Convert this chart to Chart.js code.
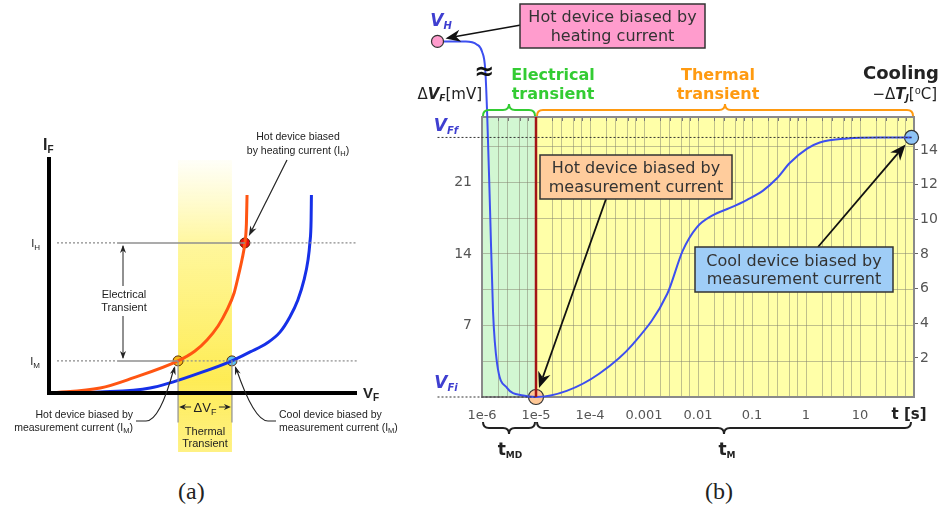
<!DOCTYPE html>
<html>
<head>
<meta charset="utf-8">
<title>Transient thermal measurement</title>
<script src="https://cdn.jsdelivr.net/npm/chart.js"></script>
<style>
  body { margin: 0; background: #fff; width: 944px; height: 515px; position: relative; overflow: hidden; }
  #graficoA { position: absolute; left: 0; top: 0; }
  #graficoB { position: absolute; left: 400px; top: 0; }
  .cap { position: absolute; top: 478px; font-family: 'Liberation Serif', serif; font-size: 24px; color: #222; }
</style>
</head>
<body>
<canvas id="graficoA" width="410" height="470"></canvas>
<canvas id="graficoB" width="544" height="470"></canvas>
<div class="cap" style="left:178px">(a)</div>
<div class="cap" style="left:705px">(b)</div>
<script>
// ---------- (a) I-V curves, arbitrary units 0..100 ----------
const hotVF  = [0.3, 16.6, 27.3, 41.9, 47.4, 51.3, 54.9, 57.8, 60.1, 61.4, 62.7, 63.6, 64.1, 64.3];
const hotIF  = [0,   2.1,  6.4,  13.6, 17.8, 22.5, 28.4, 35.2, 42.4, 49.2, 56.8, 63.6, 72,   83.9];
const coolVF = [0.3, 16.6, 32.8, 49.0, 59.4, 65.3, 70.8, 75.0, 78.2, 80.8, 82.8, 84.1, 84.7, 85.1, 85.2];
const coolIF = [0,   0.4,  2.1,  8.5,  13.6, 17.4, 21.2, 25.8, 32.2, 39.4, 47.9, 56.4, 63.6, 73.3, 83.9];
const IH = 63.6, IM = 13.6;
const hotVM = 41.9, coolVM = 59.4, hotVH = 63.6;

// ---------- (b) cooling transient ----------
// points left of 1e-6 / above the top are the schematic link to V_H (axis break)
const tSec = [1.5e-7, 5e-7, 8e-7, 1.0e-6, 1.15e-6, 1.25e-6, 1.41e-6, 1.6e-6, 1.9e-6, 2.9e-6, 5.8e-6, 1e-5,
              3.7e-5, 1.5e-4, 6.3e-4, 2.7e-3, 5.2e-3, 9.5e-3, 0.019, 0.039, 0.081, 0.16, 0.29, 0.5, 1.05, 1.8, 5.8, 23, 90];
const dVF  = [34.8, 34.8, 34.5, 33.8, 32, 27.5, 18.3, 8.4, 3.3, 0.9, 0.15, 0,
              0.6, 2.3, 5.2, 10.1, 14.3, 16.6, 17.8, 18.5, 19.3, 20.2, 21.4, 22.9, 24.3, 24.9, 25.3, 25.4, 25.4];
const VFf = 25.4, VFi = 0, tH = 1.5e-7, VHval = 34.8;
const tMD = 1e-5, tEnd = 90, tMin = 1e-6, tMax = 100;
const xTickValues = [1e-6, 1e-5, 1e-4, 0.001, 0.01, 0.1, 1, 10];
const xTickLabels = ['1e-6', '1e-5', '1e-4', '0.001', '0.01', '0.1', '1', '10'];
const leftGrid = [0, 3.5, 7, 10.5, 14, 17.5, 21, 24.5];
const leftLabels = [7, 14, 21];
const rightTicks = [2, 4, 6, 8, 10, 12, 14];

const SANS = "'Liberation Sans', Arial, sans-serif";
const DEJA = "'DejaVu Sans', Verdana, sans-serif";

function pts(xs, ys) { return xs.map((x, i) => ({ x: x, y: ys[i] })); }

function head(ctx, x, y, a, hl, hw) {
  ctx.beginPath();
  ctx.moveTo(x, y);
  ctx.lineTo(x - hl * Math.cos(a) + hw * Math.sin(a), y - hl * Math.sin(a) - hw * Math.cos(a));
  ctx.lineTo(x - hl * 0.7 * Math.cos(a), y - hl * 0.7 * Math.sin(a));
  ctx.lineTo(x - hl * Math.cos(a) - hw * Math.sin(a), y - hl * Math.sin(a) + hw * Math.cos(a));
  ctx.closePath();
  ctx.fill();
}
function arrow(ctx, x1, y1, x2, y2, hl, hw, lw) {
  const a = Math.atan2(y2 - y1, x2 - x1);
  ctx.lineWidth = lw;
  ctx.beginPath();
  ctx.moveTo(x1, y1);
  ctx.lineTo(x2 - Math.cos(a) * hl * 0.7, y2 - Math.sin(a) * hl * 0.7);
  ctx.stroke();
  head(ctx, x2, y2, a, hl, hw);
}
// text made of runs (for subscripts)
function runs(ctx, parts, x, y, align) {
  let w = 0;
  parts.forEach(p => { ctx.font = p.f; w += ctx.measureText(p.t).width; });
  let cx = align === 'right' ? x - w : align === 'center' ? x - w / 2 : x;
  ctx.textAlign = 'left';
  parts.forEach(p => {
    ctx.font = p.f;
    if (p.c) ctx.fillStyle = p.c;
    ctx.fillText(p.t, cx, y + (p.dy || 0));
    cx += ctx.measureText(p.t).width;
  });
}
function brace(ctx, x1, x2, y, h, up) {
  const s = up ? -1 : 1, m = (x1 + x2) / 2, r = 6;
  ctx.beginPath();
  ctx.moveTo(x1, y - s * h);
  ctx.quadraticCurveTo(x1, y, x1 + r, y);
  ctx.lineTo(m - r, y);
  ctx.quadraticCurveTo(m, y, m, y + s * h);
  ctx.quadraticCurveTo(m, y, m + r, y);
  ctx.lineTo(x2 - r, y);
  ctx.quadraticCurveTo(x2, y, x2, y - s * h);
  ctx.stroke();
}

// ---------- chart (a) ----------
const decorA = {
  id: 'decorA',
  beforeDatasetsDraw(chart) {
    const ctx = chart.ctx, x = chart.scales.x;
    const x1 = x.getPixelForValue(hotVM), x2 = x.getPixelForValue(coolVM);
    const yt = 160, yb = 452;
    const g = ctx.createLinearGradient(0, yt, 0, yb);
    g.addColorStop(0, 'rgba(255,245,120,0.05)');
    g.addColorStop(0.3, 'rgba(255,242,100,0.65)');
    g.addColorStop(0.75, 'rgba(254,234,70,0.92)');
    g.addColorStop(1, 'rgba(254,236,90,0.75)');
    ctx.save();
    ctx.fillStyle = g;
    ctx.fillRect(x1, yt, x2 - x1, yb - yt);
    ctx.restore();
  },
  afterDatasetsDraw(chart) {
    const ctx = chart.ctx, a = chart.chartArea;
    ctx.save();
    ctx.strokeStyle = '#000';
    ctx.lineWidth = 4;
    ctx.beginPath();
    ctx.moveTo(a.left, a.top);
    ctx.lineTo(a.left, a.bottom);
    ctx.lineTo(a.right, a.bottom);
    ctx.stroke();
    ctx.restore();
  },
  afterDraw(chart) {
    const ctx = chart.ctx, x = chart.scales.x, y = chart.scales.y;
    const px = v => x.getPixelForValue(v), py = v => y.getPixelForValue(v);
    ctx.save();
    ctx.fillStyle = '#222';
    ctx.strokeStyle = '#222';
    ctx.textBaseline = 'alphabetic';
    runs(ctx, [{ t: 'I', f: 'bold 16px ' + SANS }, { t: 'F', f: 'bold 10px ' + SANS, dy: 3 }], 43, 150, 'left');
    runs(ctx, [{ t: 'V', f: 'bold 15px ' + SANS }, { t: 'F', f: 'bold 10px ' + SANS, dy: 3 }], 363, 398, 'left');
    runs(ctx, [{ t: 'I', f: '11px ' + SANS }, { t: 'H', f: '8px ' + SANS, dy: 3 }], 40, py(IH) + 4, 'right');
    runs(ctx, [{ t: 'I', f: '11px ' + SANS }, { t: 'M', f: '8px ' + SANS, dy: 3 }], 40, py(IM) + 4, 'right');

    // electrical transient double arrow
    const xe = 123;
    ctx.lineWidth = 1;
    ctx.beginPath(); ctx.moveTo(xe, py(IH) + 3); ctx.lineTo(xe, py(IM) - 3); ctx.stroke();
    head(ctx, xe, py(IH) + 2, -Math.PI / 2, 8, 3);
    head(ctx, xe, py(IM) - 2, Math.PI / 2, 8, 3);
    ctx.fillStyle = '#fff';
    ctx.fillRect(98, 286, 52, 30);
    ctx.fillStyle = '#222';
    ctx.font = '11px ' + SANS;
    ctx.textAlign = 'center';
    ctx.textBaseline = 'middle';
    ctx.fillText('Electrical', xe + 1, 295);
    ctx.fillText('Transient', xe + 1, 308);
    ctx.fillText('Thermal', 205, 432);
    ctx.fillText('Transient', 205, 444);

    // delta VF dimension arrows
    const x1 = px(hotVM), x2 = px(coolVM);
    ctx.beginPath(); ctx.moveTo(x1 + 4, 407); ctx.lineTo(x1 + 13, 407); ctx.moveTo(x2 - 13, 407); ctx.lineTo(x2 - 4, 407); ctx.stroke();
    head(ctx, x1 + 1, 407, Math.PI, 7, 3);
    head(ctx, x2 - 1, 407, 0, 7, 3);
    ctx.textBaseline = 'alphabetic';
    runs(ctx, [{ t: 'ΔV', f: '13px ' + SANS }, { t: 'F', f: '9px ' + SANS, dy: 3 }], 205, 412, 'center');

    // annotations
    ctx.textBaseline = 'middle';
    ctx.font = '10.5px ' + SANS;
    ctx.textAlign = 'right';
    ctx.fillText('Hot device biased by', 133, 415);
    runs(ctx, [{ t: 'measurement current (I', f: '10.5px ' + SANS }, { t: 'M', f: '7.5px ' + SANS, dy: 3 }, { t: ')', f: '10.5px ' + SANS }], 133, 428, 'right');
    ctx.font = '10.5px ' + SANS;
    ctx.textAlign = 'left';
    ctx.fillText('Cool device biased by', 279, 415);
    runs(ctx, [{ t: 'measurement current (I', f: '10.5px ' + SANS }, { t: 'M', f: '7.5px ' + SANS, dy: 3 }, { t: ')', f: '10.5px ' + SANS }], 279, 428, 'left');
    ctx.font = '10.5px ' + SANS;
    ctx.textAlign = 'center';
    ctx.fillText('Hot device biased', 298, 137);
    runs(ctx, [{ t: 'by heating current (I', f: '10.5px ' + SANS }, { t: 'H', f: '7.5px ' + SANS, dy: 3 }, { t: ')', f: '10.5px ' + SANS }], 298, 151, 'center');

    // leaders
    ctx.lineWidth = 1.2;
    const hx = px(hotVM), cx = px(coolVM), my = py(IM);
    ctx.beginPath(); ctx.moveTo(136, 421); ctx.lineTo(146, 421); ctx.quadraticCurveTo(160, 421, hx - 4, my + 7); ctx.stroke();
    head(ctx, hx - 3, my + 5, Math.atan2(my + 7 - 421, hx - 4 - 160), 9, 3);
    ctx.beginPath(); ctx.moveTo(276, 421); ctx.lineTo(268, 421); ctx.quadraticCurveTo(254, 421, cx + 4, my + 7); ctx.stroke();
    head(ctx, cx + 3, my + 5, Math.atan2(my + 7 - 421, cx + 4 - 254), 9, 3);
    arrow(ctx, 287, 160, px(hotVH) + 4, py(IH) - 7, 10, 3.5, 1.2);
    ctx.restore();
  }
};

const refLine = (x1, x2, yv, dash) => ({
  type: 'line', data: [{ x: x1, y: yv }, { x: x2, y: yv }],
  borderColor: dash ? '#8a8a8a' : '#8f8f8f', borderWidth: dash ? 1.2 : 1.5, borderDash: dash ? [2, 2] : [],
  pointRadius: 0, clip: false
});
const dot = (xv, yv, col) => ({
  type: 'line', data: [{ x: xv, y: yv }], showLine: false,
  pointRadius: 5, pointBackgroundColor: col, pointBorderColor: '#5a2a00', pointBorderWidth: 1, clip: false
});

new Chart(document.getElementById('graficoA'), {
  type: 'line',
  data: {
    datasets: [
      refLine(2.6, 22.1, IH, true), refLine(22.1, hotVH, IH, false), refLine(hotVH + 1.5, 100, IH, true),
      refLine(2.6, 22.1, IM, true), refLine(22.1, hotVM, IM, false), refLine(hotVM + 1.5, 100, IM, true),
      { type: 'line', data: [{ x: hotVM, y: IM }, { x: hotVM, y: -12.5 }], borderColor: '#8f8f8f', borderWidth: 1.2, pointRadius: 0, clip: false },
      { type: 'line', data: [{ x: coolVM, y: IM }, { x: coolVM, y: -12.5 }], borderColor: '#8f8f8f', borderWidth: 1.2, pointRadius: 0, clip: false },
      { type: 'line', data: pts(hotVF, hotIF), borderColor: '#ff5512', borderWidth: 3, pointRadius: 0, cubicInterpolationMode: 'monotone', clip: false },
      { type: 'line', data: pts(coolVF, coolIF), borderColor: '#1630e8', borderWidth: 3, pointRadius: 0, cubicInterpolationMode: 'monotone', clip: false },
      dot(hotVH, IH, '#e81010'),
      dot(hotVM, IM, '#f6b915'),
      dot(coolVM, IM, '#5cc0f0')
    ]
  },
  options: {
    responsive: false,
    animation: false,
    devicePixelRatio: 1,
    layout: { padding: { left: 49, top: 157, right: 410 - 357, bottom: 470 - 393 } },
    plugins: { legend: { display: false }, tooltip: { enabled: false } },
    scales: {
      x: { type: 'linear', min: 0, max: 100, display: false },
      y: { type: 'linear', min: 0, max: 100, display: false }
    }
  },
  plugins: [decorA]
});

// ---------- chart (b) ----------
const xGrid = [];
for (let e = -6; e < 2; e++) [1, 2, 3, 5, 7].forEach(k => xGrid.push(k * Math.pow(10, e)));
xGrid.push(tMax);

const decorB = {
  id: 'decorB',
  beforeDraw(chart) {
    const ctx = chart.ctx, a = chart.chartArea, x = chart.scales.x;
    const xm = x.getPixelForValue(tMD);
    ctx.save();
    ctx.fillStyle = '#d2f7d2';
    ctx.fillRect(a.left, a.top, xm - a.left, a.bottom - a.top);
    ctx.fillStyle = '#ffffa8';
    ctx.fillRect(xm, a.top, a.right - xm, a.bottom - a.top);
    ctx.restore();
  },
  beforeDatasetsDraw(chart) {
    const ctx = chart.ctx, a = chart.chartArea, x = chart.scales.x;
    ctx.save();
    ctx.strokeStyle = '#777';
    ctx.lineWidth = 1;
    ctx.beginPath();
    xGrid.forEach(v => { const p = Math.round(x.getPixelForValue(v)) + 0.5; ctx.moveTo(p, a.top); ctx.lineTo(p, a.top + 4); });
    ctx.stroke();
    ctx.strokeStyle = '#8a8a8a';
    ctx.lineWidth = 2;
    ctx.strokeRect(a.left, a.top, a.right - a.left, a.bottom - a.top);
    ctx.restore();
  },
  afterDatasetsDraw(chart) {
    // V_H marker sits outside the plot box, where Chart.js skips points
    const ctx = chart.ctx, x = chart.scales.x, y = chart.scales.y;
    ctx.save();
    ctx.beginPath();
    ctx.arc(x.getPixelForValue(tH), y.getPixelForValue(VHval), 6, 0, Math.PI * 2);
    ctx.fillStyle = '#ff9ccd';
    ctx.fill();
    ctx.strokeStyle = '#333';
    ctx.lineWidth = 1.2;
    ctx.stroke();
    ctx.restore();
  },
  afterDraw(chart) {
    const ctx = chart.ctx, a = chart.chartArea, x = chart.scales.x, y = chart.scales.y;
    const px = v => x.getPixelForValue(v), py = v => y.getPixelForValue(v);
    ctx.save();
    ctx.textBaseline = 'alphabetic';
    const blue = '#3f3fd0';
    // V labels
    runs(ctx, [{ t: 'V', f: 'italic bold 17px ' + DEJA, c: blue }, { t: 'H', f: 'italic bold 10px ' + DEJA, dy: 3 }], 41, 26, 'center');
    runs(ctx, [{ t: 'V', f: 'italic bold 17px ' + DEJA, c: blue }, { t: 'Ff', f: 'italic bold 10px ' + DEJA, dy: 3 }], 46, py(VFf) - 6, 'center');
    runs(ctx, [{ t: 'V', f: 'italic bold 17px ' + DEJA, c: blue }, { t: 'Fi', f: 'italic bold 10px ' + DEJA, dy: 3 }], 46, py(VFi) - 9, 'center');
    // axis break
    ctx.fillStyle = '#111';
    ctx.font = 'bold 24px ' + DEJA;
    ctx.textAlign = 'center';
    ctx.fillText('≈', 84, 79);
    // axis titles
    ctx.fillStyle = '#222';
    runs(ctx, [{ t: 'Δ', f: '15px ' + DEJA }, { t: 'V', f: 'italic bold 15px ' + DEJA }, { t: 'F', f: 'italic bold 9px ' + DEJA, dy: 2 }, { t: '[mV]', f: '15px ' + DEJA }], 82, 99, 'right');
    ctx.font = 'bold 18px ' + DEJA;
    ctx.textAlign = 'right';
    ctx.fillText('Cooling', 539, 79);
    runs(ctx, [{ t: '−Δ', f: '15px ' + DEJA }, { t: 'T', f: 'italic bold 15px ' + DEJA }, { t: 'J', f: 'italic bold 9px ' + DEJA, dy: 2 }, { t: '[⁰C]', f: '15px ' + DEJA }], 537, 99, 'right');
    runs(ctx, [{ t: 't [s]', f: 'bold 15px ' + DEJA }], 509, 419, 'center');
    // transient titles
    ctx.textAlign = 'center';
    ctx.font = 'bold 16px ' + DEJA;
    ctx.fillStyle = '#33cc33';
    ctx.fillText('Electrical', 153, 80);
    ctx.fillText('transient', 153, 99);
    ctx.fillStyle = '#ff9a10';
    ctx.fillText('Thermal', 318, 80);
    ctx.fillText('transient', 318, 99);
    // braces
    const xl = a.left, xm = px(tMD), xr = a.right;
    ctx.lineWidth = 2;
    ctx.strokeStyle = '#33cc33';
    brace(ctx, xl + 1, xm - 1, 110, 6, true);
    ctx.strokeStyle = '#ff9a10';
    brace(ctx, xm + 1, xr - 1, 110, 6, true);
    ctx.strokeStyle = '#222';
    brace(ctx, xl + 1, xm - 1, 428, 6, false);
    brace(ctx, xm + 1, xr - 3, 428, 6, false);
    ctx.fillStyle = '#222';
    runs(ctx, [{ t: 't', f: 'bold 17px ' + DEJA }, { t: 'MD', f: 'bold 9px ' + DEJA, dy: 3 }], (xl + xm) / 2 + 1, 455, 'center');
    runs(ctx, [{ t: 't', f: 'bold 17px ' + DEJA }, { t: 'M', f: 'bold 9px ' + DEJA, dy: 3 }], (xm + xr) / 2 + 2, 455, 'center');
    // boxes
    const box = (x0, y0, w, h, fill, l1, l2) => {
      ctx.fillStyle = fill;
      ctx.fillRect(x0, y0, w, h);
      ctx.strokeStyle = '#333';
      ctx.lineWidth = 1.5;
      ctx.strokeRect(x0, y0, w, h);
      ctx.fillStyle = '#333';
      ctx.font = '16px ' + DEJA;
      ctx.textAlign = 'center';
      ctx.textBaseline = 'middle';
      ctx.fillText(l1, x0 + w / 2, y0 + h * 0.32);
      ctx.fillText(l2, x0 + w / 2, y0 + h * 0.74);
    };
    ctx.fillStyle = '#111';
    ctx.strokeStyle = '#111';
    arrow(ctx, 121, 25, px(tH) + 8, py(VHval) - 3, 15, 6, 1.5);
    arrow(ctx, 206, 199, px(tMD) + 3, py(0) - 9, 16, 6.5, 1.8);
    arrow(ctx, 418, 247, px(tEnd) - 6, py(VFf) + 7, 16, 6.5, 1.8);
    box(120, 4, 185, 44, '#ff9ccd', 'Hot device biased by', 'heating current');
    box(140, 155, 192, 44, '#ffcc9c', 'Hot device biased by', 'measurement current');
    box(295, 247, 198, 45, '#9fcdf7', 'Cool device biased by', 'measurement current');
    ctx.restore();
  }
};

const circle = (tv, vv, col, r) => ({
  type: 'line', data: [{ x: tv, y: vv }], showLine: false, yAxisID: 'y',
  pointRadius: r, pointBackgroundColor: col, pointBorderColor: '#333', pointBorderWidth: 1.2, clip: false
});

new Chart(document.getElementById('graficoB'), {
  type: 'line',
  data: {
    datasets: [
      { data: [{ x: tH, y: VFf }, { x: tEnd, y: VFf }], borderColor: '#333', borderWidth: 1, borderDash: [2, 2], pointRadius: 0, clip: false, yAxisID: 'y' },
      { data: [{ x: tH, y: VFi }, { x: tMD, y: VFi }], borderColor: '#333', borderWidth: 1, borderDash: [2, 2], pointRadius: 0, clip: false, yAxisID: 'y' },
      { data: [{ x: tMD, y: 0 }, { x: tMD, y: 27.4 }], borderColor: '#a31616', borderWidth: 2.5, pointRadius: 0, yAxisID: 'y' },
      { data: pts(tSec, dVF), borderColor: '#3d4ff0', borderWidth: 2, pointRadius: 0, cubicInterpolationMode: 'monotone', clip: false, yAxisID: 'y' },
      circle(tMD, 0, '#ffc896', 7.5),
      circle(tEnd, VFf, '#8fc4f5', 7)
    ]
  },
  options: {
    responsive: false,
    animation: false,
    devicePixelRatio: 1,
    layout: { padding: { left: 0, top: 117, right: 0, bottom: 0 } },
    plugins: { legend: { display: false }, tooltip: { enabled: false } },
    scales: {
      x: {
        type: 'logarithmic', bounds: 'data',
        // range set here (not via min/max) so the schematic points left of 1e-6 are still drawn
        afterDataLimits: s => { s.min = tMin; s.max = tMax; },
        afterBuildTicks: s => { s.ticks = xGrid.map(v => ({ value: v })); },
        afterFit: s => { s.height = 73; },
        grid: { color: 'rgba(130,130,110,0.5)', drawTicks: false },
        border: { display: false },
        ticks: {
          autoSkip: false, maxRotation: 0, padding: 11, color: '#555', font: { family: DEJA, size: 13 },
          callback: v => { const i = xTickValues.findIndex(t => Math.abs(t - v) / t < 1e-6); return i >= 0 ? xTickLabels[i] : ''; }
        }
      },
      y: {
        position: 'left', min: 0, max: 27.4,
        afterBuildTicks: s => { s.ticks = leftGrid.map(v => ({ value: v })); },
        afterFit: s => { s.width = 82; },
        grid: { color: 'rgba(130,130,110,0.5)', drawTicks: false },
        border: { display: false },
        ticks: { padding: 10, color: '#555', font: { family: DEJA, size: 14 }, callback: v => leftLabels.includes(v) ? String(v) : '' }
      },
      y2: {
        position: 'right', min: -0.25, max: 15.9,
        afterBuildTicks: s => { s.ticks = rightTicks.map(v => ({ value: v })); },
        afterFit: s => { s.width = 30; },
        grid: { drawOnChartArea: false, drawTicks: true, tickLength: 4, color: '#666' },
        border: { display: false },
        ticks: { padding: 2, color: '#555', font: { family: DEJA, size: 14 } }
      }
    }
  },
  plugins: [decorB]
});
</script>
</body>
</html>
